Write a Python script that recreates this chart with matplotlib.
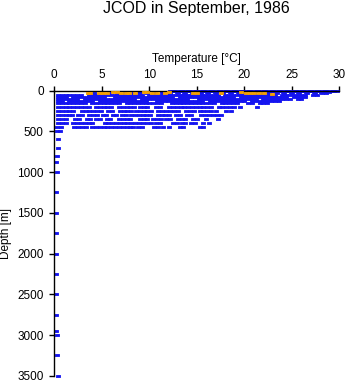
import matplotlib
matplotlib.use("Agg")
import matplotlib.pyplot as plt

# ---------------- data ----------------
blue_depths = [0, 10, 20, 30, 50, 75, 100, 125, 150, 200, 250, 300, 350, 400, 450,
               500, 600, 700, 800, 880, 1000, 1250, 1500, 1750, 2000, 2250, 2500,
               2750, 2950, 3000, 3250, 3500]

blue_temps = [
    # 0 m
    [12.2, 12.6, 13.0, 13.4, 13.8, 14.2, 14.6, 15.0, 15.4, 15.8, 16.2, 16.6, 17.0, 17.4,
     17.8, 18.2, 18.6, 19.0, 19.4, 19.8, 20.2, 20.6, 21.0, 21.4, 21.8, 22.2, 22.6, 23.0,
     23.4, 23.8, 24.2, 24.6, 25.0, 25.4, 25.8, 26.2, 26.6, 27.0, 27.4, 27.8, 28.2, 28.6,
     29.0, 29.4, 29.8],
    # 10 m
    [12.5, 13.3, 14.1, 14.9, 15.7, 16.5, 17.3, 18.1, 18.9, 19.7, 20.5, 21.3, 22.1, 22.9,
     23.7, 24.5, 25.3, 26.1, 26.9, 27.7, 28.5, 29.3],
    # 20 m
    [8.9, 9.7, 10.5, 11.3, 12.1, 12.9, 13.7, 14.5, 15.3, 16.1, 16.9, 17.7, 18.5, 19.3,
     20.1, 20.9, 21.7, 22.5, 23.3, 24.1, 24.9, 25.7, 26.5, 27.3, 28.1, 28.9],
    # 30 m
    [4.2, 5.0, 5.8, 6.6, 7.4, 8.2, 9.0, 9.8, 10.6, 11.4, 12.2, 13.0, 13.8, 14.6, 15.4,
     16.2, 17.0, 17.8, 18.6, 19.4, 20.2, 21.0, 21.8, 22.6, 23.4, 24.2, 25.0, 25.8, 26.6,
     27.4, 28.2, 28.6],
    # 50 m
    [0.4, 0.8, 1.2, 1.6, 2.0, 2.4, 2.8, 3.6, 4.0, 4.4, 4.8, 5.2, 5.6, 6.0, 6.4, 6.8, 7.2,
     7.6, 8.0, 8.4, 8.8, 9.2, 10.0, 10.4, 10.8, 11.2, 11.6, 12.0, 12.4, 12.8, 13.2, 13.6,
     14.0, 14.4, 14.8, 15.2, 15.6, 16.0, 16.4, 16.8, 17.2, 18.0, 18.4, 18.8, 19.2, 19.6,
     20.0, 20.4, 20.8, 21.2, 21.6, 22.0, 22.4, 22.8, 23.2, 24.0, 24.4, 24.8, 25.2, 25.6,
     26.0, 26.4, 27.2, 27.6],
    # 75 m
    [0.4, 0.8, 1.2, 2.0, 2.4, 2.8, 3.2, 3.6, 4.0, 4.4, 4.8, 5.2, 6.4, 6.8, 7.2, 7.6, 8.0,
     8.4, 8.8, 9.2, 9.6, 10.0, 10.4, 10.8, 11.2, 11.6, 12.0, 12.4, 13.2, 13.6, 14.0, 14.4,
     14.8, 15.2, 15.6, 16.0, 16.4, 16.8, 17.2, 17.6, 18.0, 18.4, 18.8, 19.6, 20.0, 20.4,
     20.8, 21.2, 21.6, 22.0, 22.4, 22.8, 23.2, 23.6, 24.0, 24.4, 25.2, 25.6, 26.0, 26.4],
    # 100 m
    [0.4, 0.8, 1.2, 1.6, 2.0, 2.4, 3.2, 3.6, 4.0, 4.4, 4.8, 5.2, 5.6, 6.0, 6.4, 6.8, 7.2,
     7.6, 8.0, 8.4, 9.2, 9.6, 10.0, 10.4, 10.8, 11.2, 11.6, 12.0, 12.4, 12.8, 13.2, 13.6,
     14.0, 15.2, 15.6, 16.0, 16.4, 16.8, 17.2, 17.6, 18.0, 18.4, 18.8, 19.2, 19.6, 20.0,
     20.4, 20.8, 21.2, 22.0, 22.4, 22.8, 23.2, 23.6, 24.0, 24.4, 24.8, 25.6, 26.0],
    # 125 m
    [0.4, 0.8, 1.6, 2.0, 2.4, 2.8, 3.2, 3.6, 4.0, 4.8, 5.2, 5.6, 6.0, 6.4, 6.8, 7.2, 7.6,
     8.0, 8.4, 8.8, 9.2, 9.6, 10.8, 11.2, 11.6, 12.0, 12.4, 12.8, 13.2, 13.6, 14.0, 14.4,
     14.8, 15.2, 15.6, 16.4, 16.8, 17.2, 17.6, 18.0, 18.4, 18.8, 19.2, 19.6, 20.0, 20.8,
     21.2, 21.6, 22.0, 22.4, 22.8, 23.2, 23.6],
    # 150 m
    [0.4, 0.8, 1.2, 1.6, 2.0, 2.4, 2.8, 3.2, 4.0, 4.4, 4.8, 5.2, 5.6, 6.0, 6.4, 6.8, 7.6,
     8.0, 8.4, 8.8, 9.2, 9.6, 10.0, 10.4, 10.8, 11.2, 12.4, 12.8, 13.2, 13.6, 14.0, 14.4,
     14.8, 15.2, 15.6, 16.0, 16.4, 16.8, 17.6, 18.0, 18.4, 18.8, 19.2, 20.4, 20.8, 21.6,
     22.0, 22.4],
    # 200 m
    [0.4, 0.8, 1.2, 1.6, 2.0, 2.4, 2.8, 3.2, 3.6, 4.4, 4.8, 5.2, 5.6, 6.0, 6.8, 7.2, 7.6,
     8.0, 8.4, 9.0, 9.4, 9.8, 10.7, 11.1, 12.1, 12.5, 12.9, 13.3, 13.7, 14.1, 14.5, 14.9,
     15.3, 15.7, 16.1, 16.5, 17.3, 17.7, 18.1, 18.5, 18.9, 19.5, 21.3],
    # 250 m
    [0.4, 0.8, 1.2, 1.6, 2.0, 2.9, 3.3, 3.7, 4.1, 4.5, 4.9, 5.7, 6.1, 6.9, 7.3, 7.7, 8.1,
     8.6, 9.0, 9.4, 9.8, 10.2, 10.9, 11.3, 11.8, 12.2, 12.6, 13.0, 13.9, 14.3, 14.7, 15.3,
     15.7, 16.1, 16.5, 17.0, 18.1, 18.6],
    # 300 m
    [0.4, 0.8, 1.2, 1.6, 1.9, 2.5, 2.9, 3.7, 4.1, 4.5, 5.1, 5.4, 6.2, 6.5, 7.1, 7.5, 8.1,
     8.5, 8.9, 9.3, 9.7, 10.1, 10.9, 11.3, 11.7, 12.1, 12.8, 13.2, 14.0, 14.4, 15.4, 15.9,
     16.3, 16.7, 17.1, 17.5],
    # 350 m
    [0.4, 0.8, 1.2, 2.2, 2.6, 3.4, 3.8, 4.4, 4.8, 5.5, 5.9, 6.8, 7.2, 7.6, 8.0, 9.0, 9.4,
     9.8, 10.4, 10.8, 11.2, 11.8, 12.2, 13.0, 13.4, 13.8, 14.6, 15.0, 16.0, 17.2],
    # 400 m
    [0.4, 0.8, 1.2, 2.0, 2.4, 2.8, 3.2, 3.6, 4.0, 5.3, 5.7, 6.1, 6.5, 6.9, 7.3, 7.7, 8.1,
     8.5, 8.9, 9.3, 9.8, 10.2, 10.7, 11.1, 12.5, 12.9, 13.4, 13.8, 14.4, 14.8, 15.7, 16.3],
    # 450 m
    [0.3, 0.7, 2.1, 2.5, 2.9, 3.3, 4.0, 4.4, 4.8, 5.2, 5.6, 6.0, 6.4, 6.8, 7.2, 7.6, 8.0,
     8.3, 8.8, 9.2, 10.5, 10.9, 11.4, 12.1, 13.2, 13.6, 15.3, 15.7],
    [0.3, 0.6],   # 500 m
    [0.42],       # 600 m
    [0.34],       # 700 m
    [0.25],       # 800 m
    [0.15],       # 880 m
    [0.25],       # 1000 m
    [0.23],       # 1250 m
    [0.2],        # 1500 m
    [0.2],        # 1750 m
    [0.23],       # 2000 m
    [0.23],       # 2250 m
    [0.2],        # 2500 m
    [0.23],       # 2750 m
    [0.23],       # 2950 m
    [0.25],       # 3000 m
    [0.27],       # 3250 m
    [0.34],       # 3500 m
]

orange_temps = [3.5, 3.8, 4.7, 5.1, 5.5, 6.2, 6.6, 7.0, 7.5, 7.9, 8.5, 9.4, 9.8, 10.3,
                10.8, 11.6, 12.1, 14.6, 15.0, 17.5, 19.6, 20.2, 20.6, 21.0, 21.5, 22.1,
                22.9]
orange_depths = [35, 35, 25, 25, 30, 20, 20, 30, 25, 25, 35, 20, 20, 30,
                 25, 30, 20, 25, 35, 30, 20, 30, 25, 25, 35, 25, 40]

title_text = "JCOD in September, 1986"
x_label = "Temperature [\u00b0C]"
y_label = "Depth [m]"
x_ticks = [0, 5, 10, 15, 20, 25, 30]
y_ticks = [0, 500, 1000, 1500, 2000, 2500, 3000, 3500]

# ---------------- drawing ----------------
plt.rcParams['font.family'] = ['Liberation Sans', 'DejaVu Sans']

W, H = 348, 384
fig = plt.figure(figsize=(W / 100, H / 100), dpi=100)
x0, x1 = 54.3, 339.3
y0, y1 = 90.5, 375.8
ax = fig.add_axes([x0 / W, 1 - y1 / H, (x1 - x0) / W, (y1 - y0) / H])

rect = [(-1.75, -0.9), (1.75, -0.9), (1.75, 0.9), (-1.75, 0.9), (-1.75, -0.9)]
ms = 3.4 * 72 / 100  # about 3.4 px wide before the edge

bx, by = [], []
for d, ts in zip(blue_depths, blue_temps):
    for t in ts:
        bx.append(t)
        by.append(d)
ax.plot(bx, by, linestyle='none', marker=rect, markersize=ms, markeredgewidth=0.6,
        color='#1414f0', clip_on=False, zorder=2)
ax.plot(orange_temps, orange_depths, linestyle='none', marker=rect, markersize=ms,
        markeredgewidth=0.6, color='#f5a000', clip_on=False, zorder=3)

ax.set_xlim(0, 30)
ax.set_ylim(3500, 0)
ax.xaxis.tick_top()
ax.xaxis.set_label_position('top')
ax.set_xticks(x_ticks)
ax.set_yticks(y_ticks)
ax.set_xticklabels([str(v) for v in x_ticks])
ax.set_yticklabels([str(v) for v in y_ticks])
for s in ['bottom', 'right']:
    ax.spines[s].set_visible(False)
for s in ['top', 'left']:
    ax.spines[s].set_linewidth(1.0)
    ax.spines[s].set_color('black')
ax.tick_params(axis='both', direction='out', length=3.6, width=1.0, labelsize=8.5,
               colors='black')
ax.tick_params(axis='x', pad=3.0)
ax.tick_params(axis='y', pad=4.0)
ax.set_xlabel(x_label, fontsize=8.5, labelpad=5)
ax.set_ylabel(y_label, fontsize=8.5, labelpad=4)
ax.patch.set_visible(False)

fig.text(196.8 / W, 1 - 13 / H, title_text, ha='center', va='baseline', fontsize=11.5)

fig.savefig('out.png', dpi=100, facecolor='white')
